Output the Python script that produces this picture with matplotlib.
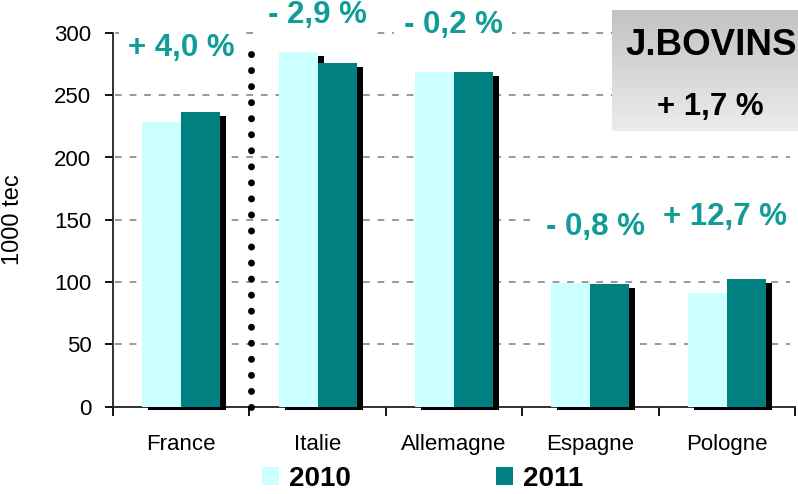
import matplotlib
matplotlib.use("Agg")
import matplotlib.pyplot as plt
import numpy as np
from matplotlib.patches import Patch
from matplotlib.colors import LinearSegmentedColormap

plt.rcParams['font.family'] = ['Liberation Sans', 'DejaVu Sans']

categories = ["France", "Italie", "Allemagne", "Espagne", "Pologne"]
vals_2010 = [228.4, 284.5, 268.8, 99.0, 91.2]
vals_2011 = [236.3, 276.3, 268.3, 98.2, 102.6]
series_labels = ["2010", "2011"]
changes = ["+ 4,0 %", "- 2,9 %", "- 0,2 %", "- 0,8 %", "+ 12,7 %"]
box_title = "J.BOVINS"
box_value = "+ 1,7 %"
ylabel = "1000 tec"
yticks = [0, 50, 100, 150, 200, 250, 300]

c2010 = "#CCFFFF"
c2011 = "#008080"
cteal_txt = "#129C98"

W, H = 798, 494
fig = plt.figure(figsize=(W / 100, H / 100), dpi=100)
ax = fig.add_axes([113 / W, 1 - 406.5 / H, 682 / W, 373.5 / H])

x = np.arange(len(categories))
w = 39 / 136.4
dx = 6 / 136.4
dy = 4 / 1.247

# shadows
for xs, vals in ((x - w / 2, vals_2010), (x + w / 2, vals_2011)):
    ax.bar(xs + dx, np.array(vals), width=w, bottom=-dy, color="black",
           zorder=2.8, clip_on=False, linewidth=0)

ax.bar(x - w / 2, vals_2010, width=w, color=c2010, zorder=3, linewidth=0, label=series_labels[0])
ax.bar(x + w / 2, vals_2011, width=w, color=c2011, zorder=3, linewidth=0, label=series_labels[1])

ax.set_xlim(-0.5, len(categories) - 0.5)
ax.set_ylim(0, 300)

# grid
for yv in yticks[1:]:
    ax.plot([-0.5 + 2 / 136.4, 4.5 - 5 / 136.4], [yv, yv], color="#999999", lw=1.4,
            ls=(0, (3.5, 4.0)), zorder=1, clip_on=False)

# dotted separator
ax.plot([0.512, 0.512], [0, 284], color="black", lw=5, ls=(0, (0.01, 2.3)),
        dash_capstyle="round", solid_capstyle="round", zorder=4, clip_on=False)

for s in ("top", "right"):
    ax.spines[s].set_visible(False)
for s in ("left", "bottom"):
    ax.spines[s].set_color("#222222")
    ax.spines[s].set_linewidth(1.3)

ax.set_yticks(yticks)
ax.tick_params(axis="y", direction="out", length=6, width=1.3, pad=9.5, labelsize=16)
ax.set_xticks(np.arange(len(categories) + 1) - 0.5)
ax.set_xticklabels([])
ax.set_xticks(x, minor=True)
ax.set_xticklabels(categories, minor=True)
ax.tick_params(axis="x", which="major", direction="out", length=6.5, width=1.3)
ax.tick_params(axis="x", which="minor", length=0, pad=20, labelsize=16)

ax.set_ylabel(ylabel, fontsize=17)
ax.yaxis.set_label_coords(-0.1305, 0.499)

# change annotations
ann_pos = [(0.002, 281.9), (0.996, 308.3), (1.993, 300.3), (3.04, 137.5), (3.987, 145.6)]
for (px, py), t in zip(ann_pos, changes):
    ax.text(px, py, t, ha="center", va="baseline", fontsize=22.5, fontweight="bold",
            color=cteal_txt, clip_on=False, zorder=6,
            bbox=dict(boxstyle="square,pad=0.3", facecolor="white", edgecolor="none"))

# gradient box
bax = fig.add_axes([612 / W, 1 - 131 / H, 186 / W, 121 / H])
grad = np.linspace(0, 1, 256).reshape(-1, 1)
cmap = LinearSegmentedColormap.from_list("g", ["#C2C2C2", "#ECECEC"])
bax.imshow(grad, aspect="auto", cmap=cmap, extent=[0, 1, 0, 1], origin="upper")
bax.set_axis_off()
fig.text(711 / W, 1 - 55 / H, box_title, ha="center", va="baseline", fontsize=26.5,
         fontweight="bold", color="black")
fig.text(710 / W, 1 - 115 / H, box_value, ha="center", va="baseline", fontsize=22.5,
         fontweight="bold", color="black")

# legend
handles = [Patch(facecolor=c2010, edgecolor="none"), Patch(facecolor=c2011, edgecolor="none")]
fig.legend(handles, series_labels, loc="center", bbox_to_anchor=(0.5295, 0.03), ncol=2,
           frameon=False, prop={"size": 20, "weight": "bold"}, handlelength=0.61,
           handleheight=0.61, handletextpad=0.36, columnspacing=5.25, borderpad=0,
           borderaxespad=0)

fig.savefig("out.png", dpi=100)
